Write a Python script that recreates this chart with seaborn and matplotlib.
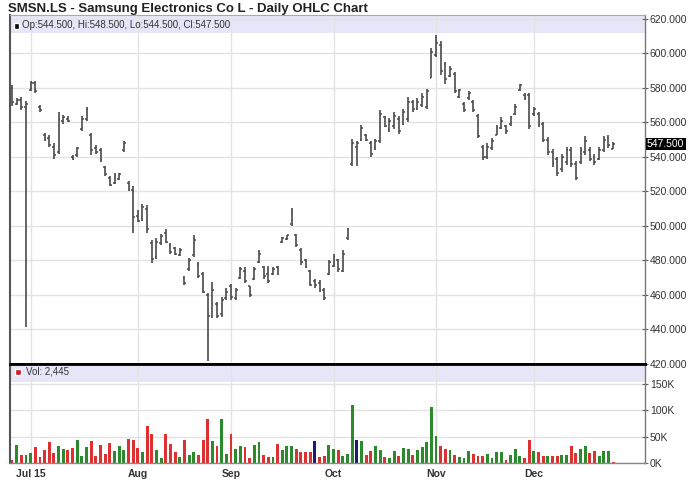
import numpy as np
import pandas as pd
import seaborn as sns
import matplotlib.pyplot as plt
import matplotlib.transforms as mtransforms
from matplotlib.patches import Rectangle
from matplotlib.ticker import FixedLocator, FuncFormatter

# SMSN.LS daily bars, late Jun 2015 .. Dec 2015
opens = [580, 571, 573, 569, 579, 583, 569, 553, 551, 546,
         543, 561, 562, 540, 541, 556, 562, 553, 545, 544,
         534, 528, 525, 527, 544, 525, 521, 506, 504, 510,
         490, 482, 490, 496, 489, 487, 483, 470, 475, 483,
         478, 472, 460, 448, 455, 449, 458, 465, 458, 470,
         474, 465, 469, 479, 476, 472, 472, 476, 490.5, 492.5,
         501, 495, 486, 480, 474, 468, 467, 463, 472, 477,
         480, 474, 493, 536, 546, 550, 553, 548, 545, 549,
         563, 556, 558, 562, 559, 562, 572, 568, 570, 569,
         586, 599, 605, 594, 587, 588, 575, 571, 574, 572,
         564, 546, 540, 545, 553, 557, 558, 559, 565, 579,
         576, 576, 565, 565, 559, 550, 543, 539, 533, 537,
         544, 536, 537, 543, 544, 540, 539, 544, 551, 544.5]
highs = [581.5, 574, 574.5, 572.5, 584, 584, 570, 554, 553, 548,
         566, 564.5, 563.5, 541, 546, 563.5, 569, 554, 547, 545,
         534.5, 529, 530.5, 530.5, 549, 526, 523, 509, 513, 512,
         492, 493, 495.5, 498, 490, 488, 487.5, 471, 481.5, 494.5,
         479, 473.5, 461, 467.5, 456, 459, 464, 466.5, 464, 476,
         476, 465.5, 476, 486, 477, 477, 476, 477, 493.5, 495,
         510.5, 495.5, 487, 481, 474.5, 469.5, 468.5, 464, 480, 484,
         481, 486, 499, 550.5, 549.5, 558.5, 553.5, 549.5, 550.5, 567,
         563.5, 562.5, 566, 563.5, 568, 575, 573, 574, 577, 579.5,
         603, 610.5, 607, 595, 593, 589.5, 579.5, 572, 578, 573,
         565, 547, 548, 551, 558.5, 563, 558.5, 564, 570.5, 582.5,
         577, 577, 569, 566, 560, 551.5, 544.5, 540, 542, 546,
         545.5, 537.5, 546, 552, 545.5, 541.5, 545.5, 552, 552.5, 548.5]
lows = [569.5, 570, 567, 441.5, 578, 577, 566, 549, 546, 539,
        542, 559, 560.5, 538, 540, 555, 561, 541, 542, 537,
        529, 523, 524.5, 526.5, 543, 520.5, 496, 502.5, 503, 496,
        478.5, 481, 489, 490, 484, 483, 482.5, 466, 474, 482,
        470, 461, 421.5, 446.5, 446.5, 447.5, 457, 457, 457, 469.5,
        467, 459, 468.5, 478.5, 469.5, 467, 471.5, 471.5, 490, 492,
        500, 488, 477.5, 475.5, 465, 464, 462, 457, 471.5, 476.5,
        473.5, 473.5, 492, 535, 535, 549, 549, 540, 544, 548,
        557.5, 554.5, 556.5, 553.5, 558.5, 560.5, 566, 567, 569, 568,
        585.5, 598, 587.5, 582.5, 586.5, 577, 574, 566, 573, 566,
        551, 538, 539, 544, 552.5, 556, 553.5, 558, 564.5, 578.5,
        573, 556.5, 564, 557.5, 548.5, 541, 534, 529, 531.5, 535.5,
        534, 526.5, 536, 541, 537.5, 535.5, 538.5, 543, 545, 544.5]
closes = [572, 573, 569, 571, 583, 578, 567, 550, 547, 541,
          562, 563, 561, 539, 545, 562, 568, 544, 543, 538,
          530, 524, 529, 530, 548, 521, 505, 503, 511, 498,
          481, 491, 494, 491, 485, 484, 486, 467, 480, 492,
          471, 462, 448, 463, 448, 457, 462, 459, 463, 475,
          468, 460, 475, 484, 471, 468, 475, 472, 493, 494.5,
          508, 489, 479, 476, 466, 466, 463, 458, 479, 482,
          475, 484, 498, 548, 548, 557, 550, 542, 549, 565,
          558, 561, 564, 555, 566, 572, 568, 572, 575, 578,
          601, 606, 590, 585, 591, 578, 579, 567, 577, 567,
          552, 540, 546, 549, 557, 561, 555, 563, 569, 582,
          574, 558, 568, 559, 550, 543, 536, 531, 540, 544,
          536, 528, 544, 549, 539, 537, 544, 550, 547, 547.5]
# volume in thousands of shares
volume_k = [6, 35, 15, 15, 19, 30, 11, 25, 40, 19,
            33, 26, 25, 28, 44, 13, 30, 42, 13, 35,
            17, 38, 22, 33, 24, 46, 44, 28, 20, 70,
            56, 25, 10, 56, 37, 20, 12, 44, 15, 20,
            15, 44, 83, 41, 33, 84, 17, 56, 26, 33,
            30, 9, 35, 40, 15, 12, 11, 37, 25, 33,
            33, 26, 20, 20, 20, 42, 12, 14, 35, 27,
            24, 13, 17, 110, 43, 41, 15, 22, 33, 24,
            12, 10, 22, 13, 29, 26, 15, 25, 31, 39,
            106, 51, 33, 26, 25, 15, 12, 10, 22, 17,
            13, 13, 17, 10, 20, 20, 6, 15, 26, 14,
            10, 44, 22, 20, 13, 13, 14, 13, 15, 15,
            33, 19, 27, 33, 19, 23, 13, 23, 23, 2.445]
vol_dir = ["d", "u", "d", "u", "u", "d", "d", "d", "d", "d",
           "u", "u", "d", "d", "u", "u", "u", "d", "d", "d",
           "d", "d", "u", "u", "u", "d", "d", "d", "u", "d",
           "d", "u", "u", "d", "d", "d", "u", "d", "u", "u",
           "d", "d", "d", "u", "d", "u", "u", "d", "u", "u",
           "d", "d", "u", "u", "d", "d", "u", "d", "u", "u",
           "u", "d", "d", "d", "d", "f", "d", "d", "u", "u",
           "d", "u", "u", "u", "f", "u", "d", "d", "u", "u",
           "d", "u", "u", "d", "u", "u", "d", "u", "u", "u",
           "u", "u", "d", "d", "u", "d", "u", "u", "u", "d",
           "d", "d", "u", "u", "u", "u", "d", "u", "u", "u",
           "d", "d", "u", "d", "d", "u", "d", "d", "u", "u",
           "d", "d", "u", "u", "d", "d", "u", "u", "u", "d"]

month_pos = [4, 27, 47, 69, 91, 112]
month_labels = ["Jul 15", "Aug", "Sep", "Oct", "Nov", "Dec"]
price_ticks = [420, 440, 460, 480, 500, 520, 540, 560, 580, 600, 620]
vol_ticks = [0, 50, 100, 150]

df = pd.DataFrame({"idx": np.arange(len(closes)), "open": opens, "high": highs,
                   "low": lows, "close": closes, "vol": volume_k, "dir": vol_dir})

sns.set_theme(style="white")
plt.rcParams["font.family"] = ["Liberation Sans", "DejaVu Sans"]

bar_col = "#4a4a4a"
band_col = "#e6e6f8"
grid_col = "#e3e3e3"
txt_col = "#333333"

fig = plt.figure(figsize=(6.88, 5.03), dpi=100)
ax = fig.add_axes([10 / 688, 1 - 364 / 503, 635 / 688, 349 / 503])
axv = fig.add_axes([10 / 688, 1 - 463 / 503, 635 / 688, 99 / 503])

x_lim = (-0.43, 135.84)

# price panel: OHLC bars
ax.vlines(df["idx"], df["low"], df["high"], color=bar_col, lw=1.2, zorder=3)
ax.hlines(df["open"], df["idx"] - 0.4, df["idx"], color=bar_col, lw=1.1, zorder=3)
ax.hlines(df["close"], df["idx"], df["idx"] + 0.4, color=bar_col, lw=1.1, zorder=3)
ax.set_xlim(*x_lim)
ax.set_ylim(420, 622.3)
ax.add_patch(Rectangle((0, 1 - 18 / 349), 1, 18 / 349, transform=ax.transAxes,
                       facecolor=band_col, edgecolor="none", zorder=0.2))

# volume panel
sns.barplot(data=df, x="idx", y="vol", hue="dir", native_scale=True, dodge=False,
            palette={"u": "#2b8a2b", "d": "#dd3030", "f": "#1c1c78"},
            width=0.62, saturation=1, errorbar=None, legend=False, linewidth=0, ax=axv)
axv.set_xlim(*x_lim)
axv.set_ylim(0, 188)
axv.add_patch(Rectangle((0, 1 - 18 / 99), 1, 18 / 99, transform=axv.transAxes,
                        facecolor=band_col, edgecolor="none", zorder=0.2))
axv.set_xlabel("")
axv.set_ylabel("")

for a in (ax, axv):
    a.set_axisbelow(True)
    a.xaxis.set_major_locator(FixedLocator(month_pos))
    a.grid(True, color=grid_col, lw=1)
    a.yaxis.tick_right()
    a.tick_params(axis="y", direction="inout", length=4, width=0.8, color="#666666",
                  pad=1.5, labelsize=7.5, labelcolor=txt_col, left=False,
                  right=True, labelleft=False, labelright=True)
    a.spines["left"].set_color("#555555")
    a.spines["left"].set_linewidth(1.5)
    a.spines["right"].set_color("#777777")
    a.spines["right"].set_linewidth(1.0)

ax.yaxis.set_major_locator(FixedLocator(price_ticks))
ax.yaxis.set_major_formatter(FuncFormatter(lambda v, p: f"{v:.3f}"))
ax.tick_params(axis="x", length=0, labelbottom=False)
ax.spines["bottom"].set_color("black")
ax.spines["bottom"].set_linewidth(2)
ax.spines["top"].set_color("#aaaaaa")
ax.spines["top"].set_linewidth(0.8)

axv.yaxis.set_major_locator(FixedLocator(vol_ticks))
axv.yaxis.set_major_formatter(FuncFormatter(lambda v, p: f"{v:.0f}K"))
axv.set_xticks(month_pos)
axv.set_xticklabels(month_labels, fontweight="bold")
axv.tick_params(axis="x", length=0, pad=4, labelsize=7.5, labelcolor=txt_col)
axv.spines["top"].set_color("black")
axv.spines["top"].set_linewidth(2)
axv.spines["bottom"].set_color("#888888")
axv.spines["bottom"].set_linewidth(1)

# legends in the lavender bands
last = df.iloc[-1]
ax.add_patch(Rectangle((3.5 / 635, 1 - 13.5 / 349), 5.5 / 635, 5.5 / 349,
                       transform=ax.transAxes, facecolor="black", zorder=4))
ax.text(12 / 635, 1 - 10.5 / 349,
        f"Op:{last['open']:.3f}, Hi:{last['high']:.3f}, Lo:{last['low']:.3f}, Cl:{last['close']:.3f}",
        transform=ax.transAxes, fontsize=7, color=txt_col, va="center", ha="left")
axv.add_patch(Rectangle((5 / 635, 1 - 11 / 99), 6 / 635, 6 / 99,
                        transform=axv.transAxes, facecolor="#cc1f1f", zorder=4))
axv.text(16 / 635, 1 - 8 / 99, f"Vol: {last['vol'] * 1000:,.0f}",
         transform=axv.transAxes, fontsize=7, color=txt_col, va="center", ha="left")

# last close marker on the price axis
trans = mtransforms.blended_transform_factory(ax.transAxes, ax.transData)
ax.text(1.003, last["close"], f"{last['close']:.3f}", transform=trans, fontsize=7.5,
        color="white", va="center", ha="left", zorder=6,
        bbox=dict(boxstyle="square,pad=0.12", facecolor="black", edgecolor="none"))

fig.text(8 / 688, 1 - 9 / 503, "SMSN.LS - Samsung Electronics Co L - Daily OHLC Chart",
         fontsize=9.5, fontweight="bold", color="#222222", va="center", ha="left")

fig.savefig("out.png", dpi=100)
